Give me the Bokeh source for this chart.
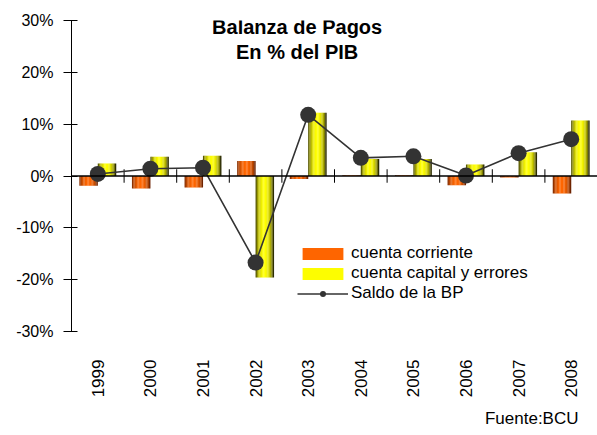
import math
from bokeh.plotting import figure
from bokeh.models import (FactorRange, Span, Legend, LegendItem, Label, Title,
                          ColumnDataSource, PrintfTickFormatter, FixedTicker, Range1d)
from bokeh.transform import dodge
from bokeh.embed import file_html
from bokeh.resources import INLINE

# ---- data ----
years = ["1999", "2000", "2001", "2002", "2003", "2004", "2005", "2006", "2007", "2008"]
cuenta_corriente = [-1.9, -2.4, -2.2, 2.9, -0.6, 0.15, 0.15, -1.8, -0.3, -3.4]
cuenta_capital = [2.4, 3.7, 3.9, -19.6, 12.2, 3.3, 3.3, 2.2, 4.6, 10.7]
saldo_bp = [0.4, 1.4, 1.6, -16.7, 11.8, 3.5, 3.8, 0.1, 4.4, 7.1]
y_ticks = [-30, -20, -10, 0, 10, 20, 30]

src = ColumnDataSource(dict(year=years, cc=cuenta_corriente, ck=cuenta_capital, bp=saldo_bp))
bsrc = ColumnDataSource(dict(year=years[:-1]))

FONT = "Liberation Sans"

p = figure(x_range=FactorRange(*years), y_range=Range1d(-30, 30),
           width=597, height=435, output_backend="svg", toolbar_location=None,
           min_border_left=71, min_border_right=0, min_border_top=20, min_border_bottom=104)
p.outline_line_color = None
p.grid.visible = False
p.background_fill_color = "white"
p.border_fill_color = "white"

# y axis
p.yaxis.ticker = FixedTicker(ticks=y_ticks)
p.yaxis.formatter = PrintfTickFormatter(format="%d%%")
p.yaxis.major_tick_in = 6
p.yaxis.major_tick_out = 8
p.yaxis.minor_tick_line_color = None
p.yaxis.axis_line_color = "black"
p.yaxis.major_tick_line_color = "black"
p.yaxis.major_label_text_font = FONT
p.yaxis.major_label_text_font_size = "16px"
p.yaxis.major_label_text_color = "black"
p.yaxis.major_label_standoff = 10

# x axis (labels only, at bottom)
p.xaxis.axis_line_color = None
p.xaxis.major_tick_line_color = None
p.xaxis.minor_tick_line_color = None
p.xaxis.major_label_orientation = math.pi / 2
p.xaxis.major_label_standoff = 22
p.xaxis.major_label_text_font = FONT
p.xaxis.major_label_text_font_size = "17px"
p.xaxis.major_label_text_color = "black"

# source note below
p.add_layout(Title(text="Fuente:BCU", align="right", text_font=FONT, text_font_size="17px",
                   text_font_style="normal", text_color="black", standoff=13, offset=19),
             "below")

# shaded (cylinder-like) bars built from vertical strips
BAR_W = 0.35
N = 14
sw = BAR_W / N

def mix(dark, bright, f):
    return "#%02x%02x%02x" % tuple(int(round(d + (b - d) * f)) for d, b in zip(dark, bright))

def prof(t):
    return math.sin(math.pi * min(max(t * 1.08 - 0.02, 0.0), 1.0)) ** 0.55

orange_dark, orange_bright = (110, 35, 0), (255, 102, 0)
yellow_dark, yellow_bright = (45, 45, 0), (255, 255, 0)

cc_leg = None
ck_leg = None
for i in range(N):
    t = (i + 0.5) / N
    f = prof(t)
    oc = mix(orange_dark, orange_bright, f)
    yc = mix(yellow_dark, yellow_bright, f)
    r1 = p.vbar(x=dodge("year", -BAR_W + (i + 0.5) * sw, range=p.x_range), top="cc", bottom=0,
                width=sw * 1.08, fill_color=oc, line_color=None, source=src)
    r2 = p.vbar(x=dodge("year", (i + 0.5) * sw, range=p.x_range), top="ck", bottom=0,
                width=sw * 1.08, fill_color=yc, line_color=None, source=src)
    if i == N // 2:
        cc_leg, ck_leg = r1, r2

# zero line and category separators
p.add_layout(Span(location=0, dimension="width", line_color="black", line_width=1.5))
p.segment(x0=dodge("year", 0.5, range=p.x_range), x1=dodge("year", 0.5, range=p.x_range),
          y0=-1.3, y1=1.3, line_color="black", line_width=1, source=bsrc)

# saldo line
ln = p.line(x="year", y="bp", line_color="#333333", line_width=1.6, source=src)
sc = p.scatter(x="year", y="bp", size=16, fill_color="#333333", line_color=None, source=src)

legend = Legend(items=[LegendItem(label="cuenta corriente", renderers=[cc_leg]),
                       LegendItem(label="cuenta capital y errores", renderers=[ck_leg]),
                       LegendItem(label="Saldo de la BP", renderers=[ln, sc])],
                location=(226, 28), padding=0, spacing=0, margin=0,
                glyph_width=51, glyph_height=15, label_standoff=3, label_height=18,
                label_text_font=FONT, label_text_font_size="17px", label_text_color="black",
                border_line_color=None, background_fill_alpha=0)
p.add_layout(legend, "center")

# titles
p.add_layout(Label(x=4.29, y=28.8, text="Balanza de Pagos", text_align="center",
                   text_baseline="alphabetic", text_font=FONT, text_font_size="20px",
                   text_font_style="bold", text_color="black"))
p.add_layout(Label(x=4.29, y=23.9, text="En % del PIB", text_align="center",
                   text_baseline="alphabetic", text_font=FONT, text_font_size="20px",
                   text_font_style="bold", text_color="black"))

open("out.html", "w").write(file_html(p, INLINE))
